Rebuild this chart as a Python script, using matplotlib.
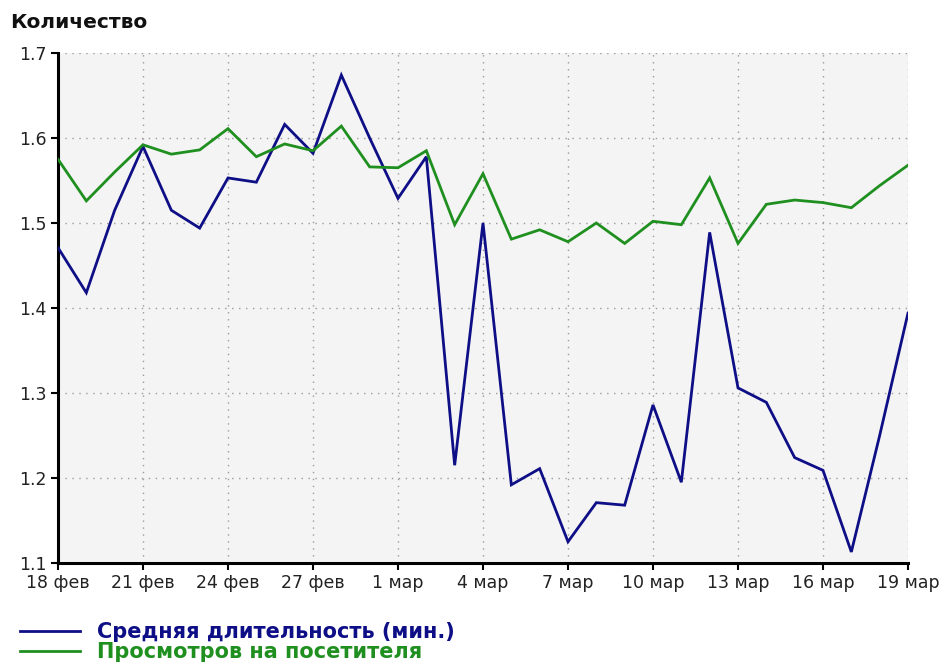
import matplotlib
matplotlib.use("Agg")
import matplotlib.pyplot as plt
import pandas as pd
from matplotlib.lines import Line2D

plt.rcParams['font.family'] = ['DejaVu Sans']

dates = pd.date_range('2024-02-18', '2024-03-19', freq='D')

avg_duration = [1.471, 1.418, 1.515, 1.590, 1.515, 1.494, 1.553, 1.548, 1.616, 1.582,
                1.674, 1.600, 1.529, 1.578, 1.215, 1.500, 1.192, 1.211, 1.125, 1.171,
                1.168, 1.286, 1.195, 1.489, 1.306, 1.289, 1.224, 1.209, 1.113, 1.250,
                1.394]
views_per_visitor = [1.575, 1.526, 1.560, 1.592, 1.581, 1.586, 1.611, 1.578, 1.593, 1.585,
                     1.614, 1.566, 1.565, 1.585, 1.498, 1.558, 1.481, 1.492, 1.478, 1.500,
                     1.476, 1.502, 1.498, 1.553, 1.476, 1.522, 1.527, 1.524, 1.518, 1.544,
                     1.568]

series_labels = ['Средняя длительность (мин.)', 'Просмотров на посетителя']
series_colors = ['#0e0e86', '#1f8f1f']
x_tick_labels = ['18 фев', '21 фев', '24 фев', '27 фев', '1 мар', '4 мар', '7 мар',
                 '10 мар', '13 мар', '16 мар', '19 мар']
y_ticks = [1.1, 1.2, 1.3, 1.4, 1.5, 1.6, 1.7]
y_title = 'Количество'

W, H = 944, 665
fig = plt.figure(figsize=(W / 100, H / 100), dpi=100)
fig.patch.set_facecolor('white')
ax = fig.add_axes([58 / W, 1 - 563 / H, 850 / W, 510 / H])
ax.set_facecolor('#f4f4f4')

ax.plot(dates, avg_duration, color=series_colors[0], lw=2.0, label=series_labels[0],
        solid_joinstyle='miter', zorder=3)
ax.plot(dates, views_per_visitor, color=series_colors[1], lw=2.0, label=series_labels[1],
        solid_joinstyle='miter', zorder=3)

ax.set_xlim(dates[0], dates[-1])
ax.set_ylim(1.1, 1.7)
ax.set_xticks(dates[::3])
ax.set_xticklabels(x_tick_labels)
ax.set_yticks(y_ticks)
ax.set_yticklabels([f'{v:.1f}' for v in y_ticks])

ax.grid(True, color='#9a9a9a', linestyle=(0, (1, 4)), linewidth=1.0, zorder=1)
for s in ['top', 'right']:
    ax.spines[s].set_visible(False)
for s in ['left', 'bottom']:
    ax.spines[s].set_linewidth(2.2)
    ax.spines[s].set_color('black')
ax.tick_params(axis='both', length=5, width=1.5, color='black', labelsize=12.5,
               labelcolor='#222222', pad=3)

fig.text(10 / W, 1 - 22 / H, y_title, fontsize=14.5, fontweight='bold', va='center',
         ha='left', color='#111111')

handles = [Line2D([], [], color=c, lw=2.0) for c in series_colors]
leg = fig.legend(handles, series_labels, loc='upper left',
                 bbox_to_anchor=(20 / W, 1 - 622 / H), frameon=False,
                 prop={'size': 15, 'weight': 'bold'}, handlelength=2.9,
                 handletextpad=0.8, labelspacing=0.02, borderpad=0, borderaxespad=0)
for t, c in zip(leg.get_texts(), series_colors):
    t.set_color(c)

fig.savefig('out.png', dpi=100)
